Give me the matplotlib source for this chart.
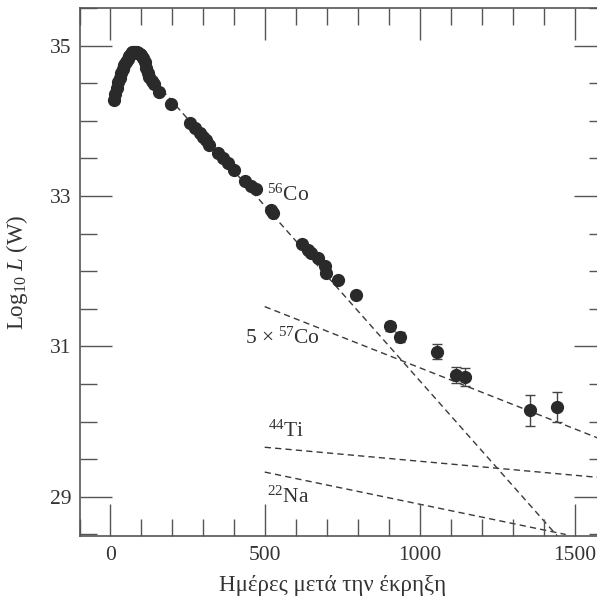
import numpy as np
import matplotlib
matplotlib.use('Agg')
import matplotlib.pyplot as plt
from matplotlib.ticker import MultipleLocator

plt.rcParams['font.family'] = ['Liberation Serif', 'DejaVu Serif']
plt.rcParams['mathtext.fontset'] = 'custom'
plt.rcParams['mathtext.rm'] = 'Liberation Serif'
plt.rcParams['mathtext.it'] = 'Liberation Serif:italic'

# light curve points (days after explosion, log10 L)
days = [10, 15, 20, 25, 30, 35, 40, 45, 50, 55, 60, 65, 70, 75, 80, 85,
        90, 95, 100, 105, 110, 115, 120, 126, 133, 140, 158, 195,
        256, 273, 289, 299, 310, 319, 348, 364, 380, 398, 434, 455, 469,
        517, 525, 617, 638, 649, 670, 692, 697, 735, 794]
logL = [34.28, 34.36, 34.44, 34.51, 34.57, 34.63, 34.69, 34.74, 34.78,
        34.82, 34.86, 34.89, 34.91, 34.92, 34.92, 34.91, 34.90, 34.89,
        34.87, 34.84, 34.78, 34.70, 34.64, 34.58, 34.53, 34.49, 34.38,
        34.22, 33.97, 33.91, 33.84, 33.79, 33.75, 33.68, 33.57, 33.51,
        33.44, 33.35, 33.20, 33.13, 33.09, 32.82, 32.78, 32.36, 32.28,
        32.24, 32.17, 32.07, 31.98, 31.88, 31.68]

# late points with error bars
late_days = [904, 934, 1054, 1115, 1144, 1353, 1443]
late_logL = [31.27, 31.13, 30.93, 30.62, 30.59, 30.15, 30.20]
late_err = [0.06, 0.065, 0.10, 0.105, 0.12, 0.21, 0.20]

# decay lines (end points)
co56_x = [100, 1445]
co56_y = [34.72, 28.47]
co57_x = [498, 1600]
co57_y = [31.53, 29.74]
ti44_x = [498, 1600]
ti44_y = [29.66, 29.25]
na22_x = [498, 1470]
na22_y = [29.33, 28.50]

ink = '#2a2a2a'
axc = '#555555'
dash = (0, (4.5, 3))

fig = plt.figure(figsize=(5.97, 5.99), dpi=100)
ax = fig.add_axes([79.5/597, 63/599, 526.5/597, 528/599])

for xs, ys in [(co56_x, co56_y), (co57_x, co57_y), (ti44_x, ti44_y), (na22_x, na22_y)]:
    ax.plot(xs, ys, linestyle=dash, color='#3a3a3a', lw=1.0, zorder=1)

ax.plot(days, logL, 'o', color=ink, ms=8.5, mec=ink, zorder=3)
ax.errorbar(late_days, late_logL, yerr=late_err, fmt='o', color=ink, ms=8.5,
            ecolor='#444444', elinewidth=1.0, capsize=3.5, capthick=1.0, zorder=3)

ax.set_xlim(-100, 1600)
ax.set_ylim(28.48, 35.5)
ax.xaxis.set_major_locator(MultipleLocator(500))
ax.xaxis.set_minor_locator(MultipleLocator(100))
ax.yaxis.set_major_locator(MultipleLocator(2))
ax.yaxis.set_minor_locator(MultipleLocator(0.5))
ax.set_yticks([29, 31, 33, 35])

ax.tick_params(which='both', direction='in', top=True, right=True,
               color=axc, width=1.0, labelsize=15.5, labelcolor='#333333')
ax.tick_params(which='major', length=23)
ax.tick_params(which='minor', length=12)
ax.tick_params(axis='x', pad=7)
ax.tick_params(axis='y', pad=6)
for s in ax.spines.values():
    s.set_color(axc)
    s.set_linewidth(1.2)

tc = '#333333'
ax.text(505, 32.93, r'$^{56}$Co', fontsize=15.5, color=tc)
ax.text(434, 31.04, r'5 × $^{57}$Co', fontsize=15.5, color=tc)
ax.text(509, 29.795, r'$^{44}$Ti', fontsize=15.5, color=tc)
ax.text(504, 28.92, r'$^{22}$Na', fontsize=15.5, color=tc)

ax.set_xlabel('Ημέρες μετά την έκρηξη', fontsize=16.5, color=tc)
ax.set_ylabel(r'Log$_{10}$ $L$ (W)', fontsize=16.5, color=tc)
ax.xaxis.set_label_coords(0.4815, -0.074)
ax.yaxis.set_label_coords(-0.094, 0.50)

fig.savefig('out.png', dpi=100)
